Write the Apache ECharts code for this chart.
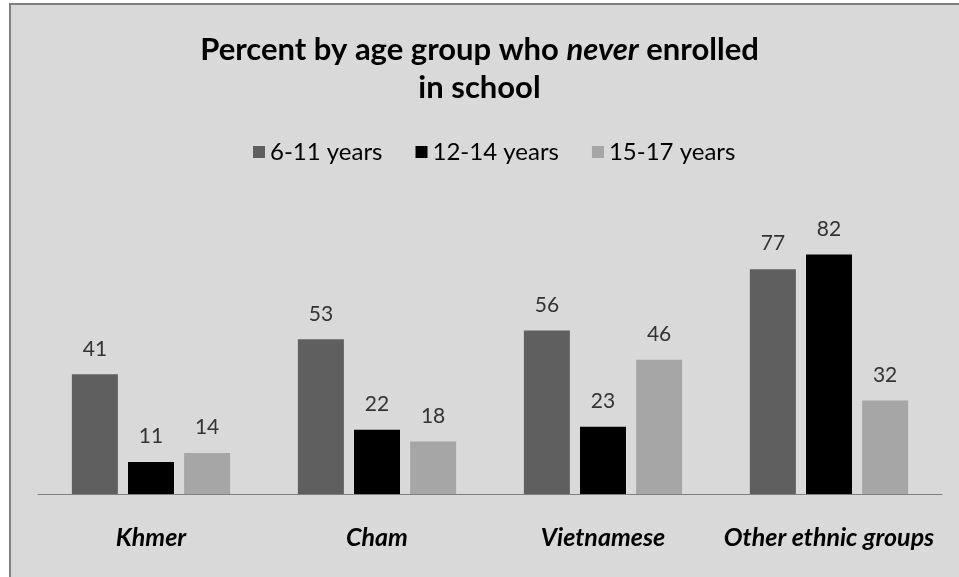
<!DOCTYPE html>
<html>
<head>
<meta charset="utf-8">
<script src="https://cdn.jsdelivr.net/npm/echarts@6/dist/echarts.min.js"></script>
<style>
  html, body { margin: 0; padding: 0; background: #ffffff; overflow: hidden; }
  #frame { position: absolute; left: 9px; top: 3px; width: 960px; height: 585px; border: 2px solid #7f7f7f; background: #d9d9d9; }
  #chart { position: absolute; left: -11px; top: -5px; width: 959px; height: 577px; }
</style>
</head>
<body>
<div id="frame"><div id="chart"></div></div>
<script>
const categories = ['Khmer', 'Cham', 'Vietnamese', 'Other ethnic groups']
const seriesNames = ['6-11 years', '12-14 years', '15-17 years']
const age6to11 = [41, 53, 56, 77]
const age12to14 = [11, 22, 23, 82]
const age15to17 = [14, 18, 46, 32]
const colors = ['#5f5f5f', '#000000', '#a6a6a6']

const font = 'Lato'
const chart = echarts.init(document.getElementById('chart'))

function makeSeries (name, data, color) {
  return {
    name: name,
    type: 'bar',
    data: data,
    barWidth: 46,
    barGap: '22%',
    itemStyle: { color: color },
    label: {
      show: true,
      position: 'top',
      distance: 15,
      color: '#333333',
      fontFamily: font,
      fontSize: 21
    }
  }
}

const option = {
  backgroundColor: 'transparent',
  title: {
    left: 'center',
    top: 26,
    text: '{b|Percent by age group who }{i|never}{b| enrolled}\n{b|in school}',
    textStyle: {
      rich: {
        b: { fontFamily: font, fontWeight: 'bold', fontSize: 31, color: '#000', lineHeight: 38 },
        i: { fontFamily: font, fontWeight: 'bold', fontStyle: 'italic', fontSize: 31, color: '#000', lineHeight: 38 }
      }
    }
  },
  legend: {
    top: 135,
    left: 248,
    itemWidth: 12,
    itemHeight: 12,
    itemGap: 33,
    icon: 'rect',
    textStyle: { fontFamily: font, fontSize: 24, color: '#000' },
    data: seriesNames
  },
  grid: { left: 38, right: 17, top: 202, bottom: 83 },
  xAxis: {
    type: 'category',
    data: categories,
    axisLine: { lineStyle: { color: '#808080', width: 1 } },
    axisTick: { show: false },
    axisLabel: {
      interval: 0,
      margin: 31,
      fontFamily: font,
      fontSize: 25,
      fontWeight: 'bold',
      fontStyle: 'italic',
      color: '#000'
    }
  },
  yAxis: {
    type: 'value',
    min: 0,
    max: 100,
    show: false,
    splitLine: { show: false }
  },
  series: [
    makeSeries(seriesNames[0], age6to11, colors[0]),
    makeSeries(seriesNames[1], age12to14, colors[1]),
    makeSeries(seriesNames[2], age15to17, colors[2])
  ]
}

chart.setOption(option)
</script>
</body>
</html>
